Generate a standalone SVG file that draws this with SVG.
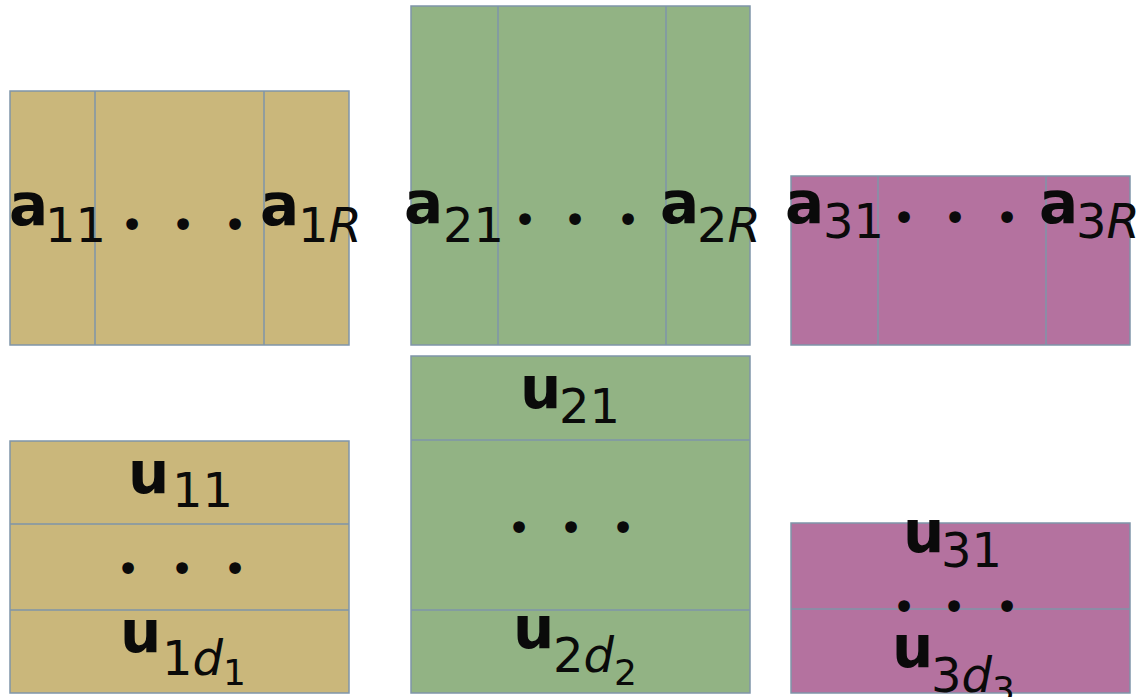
<svg xmlns="http://www.w3.org/2000/svg" width="1139" height="697" viewBox="0 0 1139 697">
  <style>
    .box { stroke: #7f95a9; stroke-width: 1.5; }
    .div { stroke: #7f95a9; stroke-width: 1.5; fill: none; }
    .tan { fill: #cab77b; }
    .grn { fill: #92b384; }
    .pnk { fill: #b4729f; }
    text { font-family: "DejaVu Sans", Verdana, sans-serif; fill: #0a0a0a; }
    .v { font-weight: bold; font-size: 58px; }
    .s { font-size: 48px; }
    .ss { font-size: 36px; }
    .it { font-style: italic; }
    .dots { font-size: 40px; text-anchor: middle; }
  </style>
  <rect width="1139" height="697" fill="#ffffff"/>

  <!-- factor matrix A1 -->
  <g id="A1">
    <rect class="box tan" x="10" y="91" width="339" height="254"/>
    <path class="div" d="M95 91V345M264 91V345"/>
    <text x="9" y="225"><tspan class="v">a</tspan><tspan class="s" x="45" y="242">11</tspan></text>
    <text class="dots" x="132 183 235" y="239">•••</text>
    <text x="260" y="225"><tspan class="v">a</tspan><tspan class="s" x="298" y="242">1</tspan><tspan class="s it">R</tspan></text>
  </g>

  <!-- factor matrix A2 -->
  <g id="A2">
    <rect class="box grn" x="411" y="6" width="339" height="339"/>
    <path class="div" d="M498 6V345M666 6V345"/>
    <text x="404" y="223"><tspan class="v">a</tspan><tspan class="s" x="443" y="242">21</tspan></text>
    <text class="dots" x="525 575 628" y="234">•••</text>
    <text x="660" y="223"><tspan class="v">a</tspan><tspan class="s" x="697" y="242">2</tspan><tspan class="s it">R</tspan></text>
  </g>

  <!-- factor matrix A3 -->
  <g id="A3">
    <rect class="box pnk" x="791" y="176" width="339" height="169"/>
    <path class="div" d="M878 176V345M1046 176V345"/>
    <text x="785" y="223"><tspan class="v">a</tspan><tspan class="s" x="823" y="238">31</tspan></text>
    <text class="dots" x="904 955 1007" y="232">•••</text>
    <text x="1039" y="223"><tspan class="v">a</tspan><tspan class="s" x="1076" y="238">3</tspan><tspan class="s it">R</tspan></text>
  </g>

  <!-- basis U1 -->
  <g id="U1">
    <rect class="box tan" x="10" y="441" width="339" height="252"/>
    <path class="div" d="M10 524H349M10 610H349"/>
    <text x="128" y="493"><tspan class="v">u</tspan><tspan class="s" x="172" y="507">11</tspan></text>
    <text class="dots" x="128 182 235" y="583">•••</text>
    <text x="120" y="652"><tspan class="v">u</tspan><tspan class="s" x="162" y="675">1</tspan><tspan class="s it">d</tspan><tspan class="ss" y="685">1</tspan></text>
  </g>

  <!-- basis U2 -->
  <g id="U2">
    <rect class="box grn" x="411" y="356" width="339" height="337"/>
    <path class="div" d="M411 440H750M411 610H750"/>
    <text x="520" y="408"><tspan class="v">u</tspan><tspan class="s" x="559" y="423">21</tspan></text>
    <text class="dots" x="519 571 623" y="542">•••</text>
    <text x="513" y="648"><tspan class="v">u</tspan><tspan class="s" x="553" y="672">2</tspan><tspan class="s it">d</tspan><tspan class="ss" y="685">2</tspan></text>
  </g>

  <!-- basis U3 -->
  <g id="U3">
    <rect class="box pnk" x="791" y="523" width="339" height="170"/>
    <path class="div" d="M791 609H1130"/>
    <text x="903" y="552"><tspan class="v">u</tspan><tspan class="s" x="941" y="567">31</tspan></text>
    <text class="dots" x="904 954 1007" y="621">•••</text>
    <text x="892" y="667"><tspan class="v">u</tspan><tspan class="s" x="931" y="692">3</tspan><tspan class="s it">d</tspan><tspan class="ss" y="702">3</tspan></text>
  </g>

  <g id="connectors"/>
</svg>
